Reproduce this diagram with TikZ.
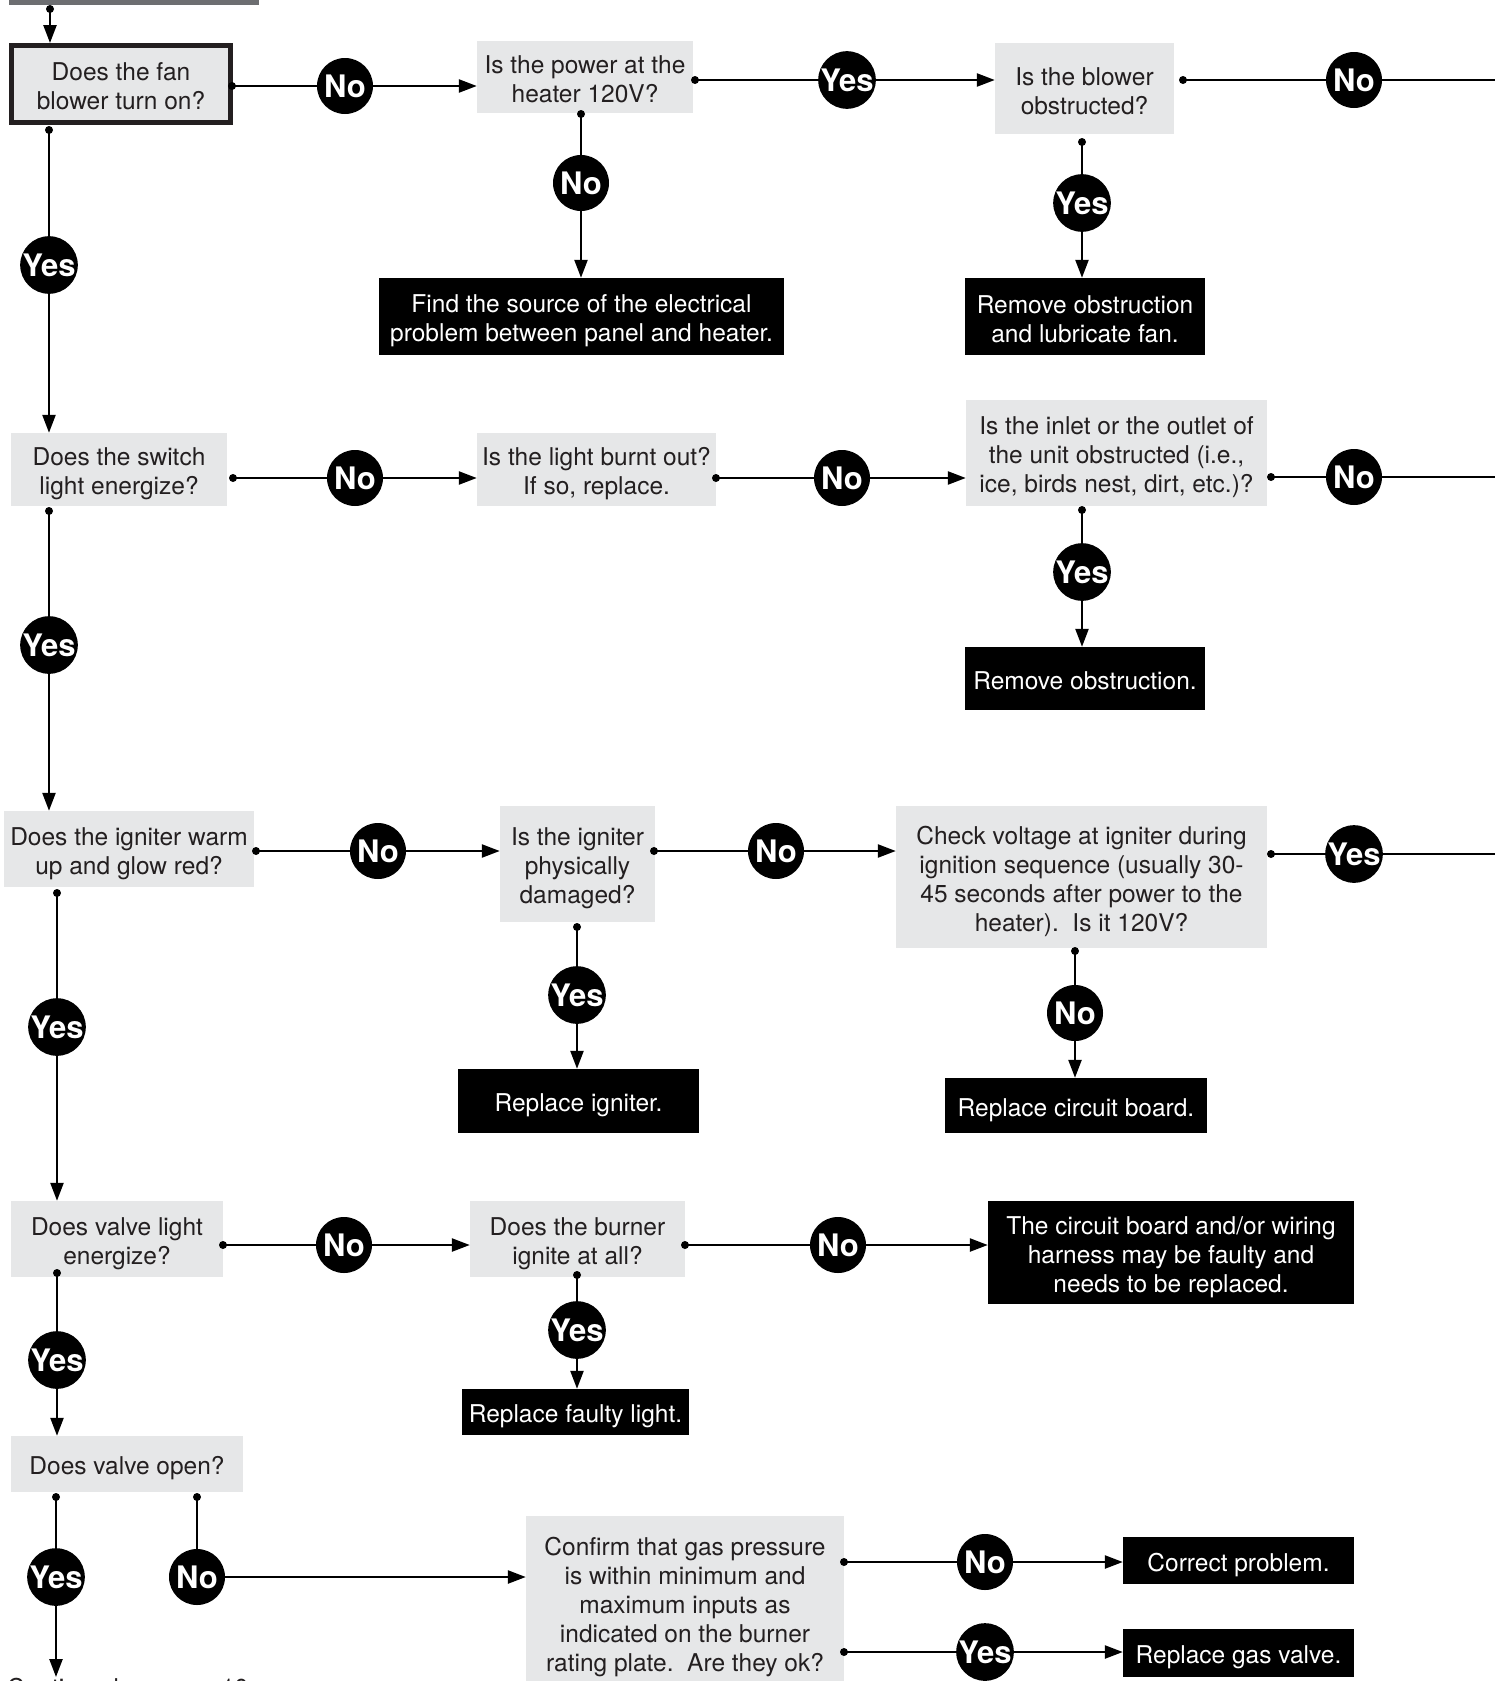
\documentclass[tikz,border=0pt]{standalone}
\usepackage{fontspec}
\setmainfont{TeX Gyre Heros}
\usetikzlibrary{arrows.meta}
\definecolor{boxgray}{HTML}{E6E7E8}
\definecolor{ink}{HTML}{231F20}
\definecolor{bargray}{HTML}{6D6E71}
\newcommand\bodyfnt{\fontsize{24.5}{29}\selectfont}
\newcommand\lblfnt{\fontsize{31}{31}\selectfont\bfseries}
\newcommand\tS{\rule{0pt}{27pt}}
\newcommand\bS{\rule[-4.5pt]{0pt}{0pt}}
\begin{document}
\begin{tikzpicture}[x=1pt,y=-1pt,
 boxtext/.style={align=center, inner sep=0pt, font=\bodyfnt},
 q/.style={rectangle, fill=boxgray, text=ink, boxtext},
 act/.style={rectangle, fill=black, text=white, boxtext},
 lbl/.style={circle, fill=black, text=white, minimum size=56pt, inner sep=0pt, font=\lblfnt},
 conn/.style={line width=2.4pt, draw=black},
 arr/.style={conn, -{Triangle[length=18pt,width=13pt]}},
 dotn/.style={circle, fill=black, minimum size=8pt, inner sep=0pt},
]
\useasboundingbox (0,0) rectangle (1495,1681);
\fill[bargray] (9,0) rectangle (259,5);

% ---------- boxes ----------
\node[q, draw=ink, line width=5pt, minimum width=219pt, minimum height=77pt] (fan) at (121,84) {\tS Does the fan\\blower turn on?\bS};
\node[q, minimum width=216pt, minimum height=72pt] (power) at (585,77) {\tS Is the power at the\\heater 120V?\bS};
\node[q, minimum width=179pt, minimum height=91pt] (blower) at (1084.5,88.5) {\tS Is the blower\\obstructed?\bS};
\node[act, minimum width=405pt, minimum height=77pt] (find) at (581.5,316.5) {\tS Find the source of the electrical\\problem between panel and heater.\bS};
\node[act, minimum width=240pt, minimum height=77pt] (rem1) at (1085,316.5) {\tS Remove obstruction\\and lubricate fan.\bS};

\node[q, minimum width=216pt, minimum height=73pt] (switch) at (119,469.5) {\tS Does the switch\\light energize?\bS};
\node[q, minimum width=239pt, minimum height=73pt] (light) at (596.5,469.5) {\tS Is the light burnt out?\\If so, replace.\bS};
\node[q, minimum width=301pt, minimum height=106pt] (inlet) at (1116.5,453) {\tS Is the inlet or the outlet of\\the unit obstructed (i.e.,\\ice, birds nest, dirt, etc.)?\bS};
\node[act, minimum width=240pt, minimum height=63pt] (rem2) at (1085,678.5) {\tS Remove obstruction.\bS};

\node[q, minimum width=250pt, minimum height=76pt] (igniter) at (129,849) {\tS Does the igniter warm\\up and glow red?\bS};
\node[q, minimum width=155pt, minimum height=116pt] (phys) at (577.5,864) {\tS Is the igniter\\physically\\damaged?\bS};
\node[q, minimum width=371pt, minimum height=142pt] (check) at (1081.5,877) {\tS Check voltage at igniter during\\ignition sequence (usually 30-\\45 seconds after power to the\\heater).\ \ Is it 120V?\bS};
\node[act, minimum width=241pt, minimum height=64pt] (repig) at (578.5,1101) {\tS Replace igniter.\bS};
\node[act, minimum width=262pt, minimum height=55pt] (repcb) at (1076,1105.5) {\tS Replace circuit board.\bS};

\node[q, minimum width=212pt, minimum height=76pt] (valvel) at (117,1239) {\tS Does valve light\\energize?\bS};
\node[q, minimum width=215pt, minimum height=76pt] (burner) at (577.5,1239) {\tS Does the burner\\ignite at all?\bS};
\node[act, minimum width=366pt, minimum height=103pt] (wiring) at (1171,1252.5) {\tS The circuit board and/or wiring\\harness may be faulty and\\needs to be replaced.\bS};
\node[act, minimum width=227pt, minimum height=46pt] (repfl) at (575.5,1412) {\tS Replace faulty light.\bS};

\node[q, minimum width=232pt, minimum height=56pt] (valveo) at (127,1464) {\tS Does valve open?\bS};
\node[q, minimum width=318pt, minimum height=174pt] (confirm) at (685,1603) {\tS Confirm that gas pressure\\is within minimum and\\maximum inputs as\\indicated on the burner\\rating plate.\ \ Are they ok?\bS};
\node[act, minimum width=231pt, minimum height=47pt] (correct) at (1238.5,1560.5) {\tS Correct problem.\bS};
\node[act, minimum width=231pt, minimum height=48pt] (gasv) at (1238.5,1653) {\tS Replace gas valve.\bS};

\node[anchor=base west, font=\bodyfnt, text=ink, inner sep=0pt] (cont) at (7,1696) {Continued on page 10};

% ---------- start dots ----------
\node[dotn] (d0) at (50,9) {};
\node[dotn] (d1) at (232,86) {};
\node[dotn] (d2) at (695,80) {};
\node[dotn] (d3) at (1183,80) {};
\node[dotn] (d4) at (581,114) {};
\node[dotn] (d5) at (1082,142) {};
\node[dotn] (d6) at (49,130) {};
\node[dotn] (d7) at (233,478) {};
\node[dotn] (d8) at (716,478) {};
\node[dotn] (d9) at (1271,477) {};
\node[dotn] (d10) at (1082,510) {};
\node[dotn] (d11) at (49,511) {};
\node[dotn] (d12) at (256,851) {};
\node[dotn] (d13) at (654,851) {};
\node[dotn] (d14) at (1271,854) {};
\node[dotn] (d15) at (577,927) {};
\node[dotn] (d16) at (1075,951) {};
\node[dotn] (d17) at (57,893) {};
\node[dotn] (d18) at (223,1245) {};
\node[dotn] (d19) at (685,1245) {};
\node[dotn] (d20) at (577,1275) {};
\node[dotn] (d21) at (57,1273) {};
\node[dotn] (d22) at (56,1497) {};
\node[dotn] (d23) at (197,1497) {};
\node[dotn] (d24) at (844,1562) {};
\node[dotn] (d25) at (844,1652) {};

% ---------- free ends ----------
\coordinate (e3) at (1495,80);
\coordinate (e9) at (1495,477);
\coordinate (e14) at (1495,854);
\coordinate (e22) at (56,1677);

% ---------- connectors (drawn under the labels) ----------
\draw[arr] (d0.center) -- (d0 |- fan.north);
\draw[arr] (d1.center) -- (d1 -| power.west);
\draw[arr] (d2.center) -- (d2 -| blower.west);
\draw[conn] (d3.center) -- (e3);
\draw[arr] (d4.center) -- (d4 |- find.north);
\draw[arr] (d5.center) -- (d5 |- rem1.north);
\draw[arr] (d6.center) -- (d6 |- switch.north);
\draw[arr] (d7.center) -- (d7 -| light.west);
\draw[arr] (d8.center) -- (d8 -| inlet.west);
\draw[conn] (d9.center) -- (e9);
\draw[arr] (d10.center) -- (d10 |- rem2.north);
\draw[arr] (d11.center) -- (d11 |- igniter.north);
\draw[arr] (d12.center) -- (d12 -| phys.west);
\draw[arr] (d13.center) -- (d13 -| check.west);
\draw[conn] (d14.center) -- (e14);
\draw[arr] (d15.center) -- (d15 |- repig.north);
\draw[arr] (d16.center) -- (d16 |- repcb.north);
\draw[arr] (d17.center) -- (d17 |- valvel.north);
\draw[arr] (d18.center) -- (d18 -| burner.west);
\draw[arr] (d19.center) -- (d19 -| wiring.west);
\draw[arr] (d20.center) -- (d20 |- repfl.north);
\draw[arr] (d21.center) -- (d21 |- valveo.north);
\draw[arr] (d22.center) -- (e22);
\draw[conn] (d23.center) -- (197,1577) coordinate (k23);
\draw[arr] (k23) -- (k23 -| confirm.west);
\draw[arr] (d24.center) -- (d24 -| correct.west);
\draw[arr] (d25.center) -- (d25 -| gasv.west);

% ---------- labels ----------
\node[lbl] (l1) at (345,86) {No};
\node[lbl] (l2) at (847,80) {Yes};
\node[lbl] (l3) at (1354,80) {No};
\node[lbl] (l4) at (581,183) {No};
\node[lbl] (l5) at (1082,203) {Yes};
\node[lbl] (l6) at (49,265) {Yes};
\node[lbl] (l7) at (355,478) {No};
\node[lbl] (l8) at (842,478) {No};
\node[lbl] (l9) at (1354,477) {No};
\node[lbl] (l10) at (1082,572) {Yes};
\node[lbl] (l11) at (49,645) {Yes};
\node[lbl] (l12) at (378,851) {No};
\node[lbl] (l13) at (776,851) {No};
\node[lbl] (l14) at (1354,854) {Yes};
\node[lbl] (l15) at (577,995) {Yes};
\node[lbl] (l16) at (1075,1013) {No};
\node[lbl] (l17) at (57,1027) {Yes};
\node[lbl] (l18) at (344,1245) {No};
\node[lbl] (l19) at (838,1245) {No};
\node[lbl] (l20) at (577,1330) {Yes};
\node[lbl] (l21) at (57,1360) {Yes};
\node[lbl] (l22) at (56,1577) {Yes};
\node[lbl] (l23) at (197,1577) {No};
\node[lbl] (l24) at (985,1562) {No};
\node[lbl] (l25) at (985,1652) {Yes};
\end{tikzpicture}
\end{document}
